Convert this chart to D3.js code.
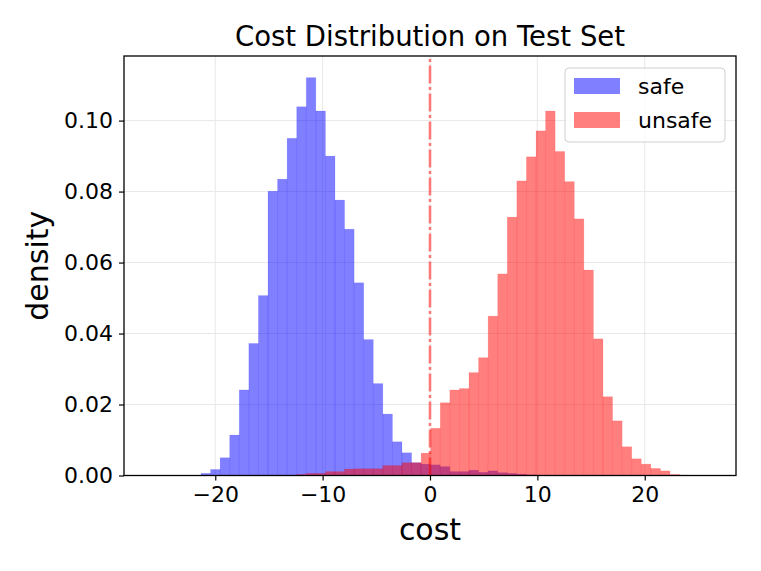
<!DOCTYPE html>
<html>
<head>
<meta charset="utf-8">
<script src="https://cdn.jsdelivr.net/npm/d3@7"></script>
<style>
  body { margin: 0; background: #fff; }
  text { font-family: "DejaVu Sans", sans-serif; fill: #000; }
</style>
</head>
<body>
<div id="chart"></div>
<script>
// histogram bins shared by both series
var binStart = -21.33, binWidth = 0.8915;

// density per bin
var safeDensity = [
  0.0006, 0.0017, 0.0050, 0.0114, 0.0241, 0.0372, 0.0507, 0.0801, 0.0835, 0.0950,
  0.1039, 0.1121, 0.1027, 0.0900, 0.0776, 0.0694, 0.0543, 0.0383, 0.0259, 0.0173,
  0.0095, 0.0064, 0.0036, 0.0032, 0.0030, 0.0025, 0.0011, 0.0011, 0.0015, 0.0009,
  0.0013, 0.0008, 0.0006, 0.0004, 0.0002, 0.0001, 0, 0, 0, 0,
  0, 0, 0, 0, 0, 0, 0, 0, 0, 0, 0
];
var unsafeDensity = [
  0, 0, 0, 0, 0, 0, 0, 0, 0, 0,
  0.0003, 0.0006, 0.0006, 0.0011, 0.0011, 0.0018, 0.0019, 0.0019, 0.0019, 0.0028,
  0.0028, 0.0036, 0.0036, 0.0063, 0.0133, 0.0205, 0.0241, 0.0245, 0.0290, 0.0332,
  0.0449, 0.0568, 0.0728, 0.0830, 0.0898, 0.0971, 0.1027, 0.0913, 0.0828, 0.0723,
  0.0579, 0.0385, 0.0222, 0.0154, 0.0081, 0.0047, 0.0032, 0.0020, 0.0013, 0.0003,
  0.0001
];

var xTicks = [-20, -10, 0, 10, 20];
var yTicks = [0, 0.02, 0.04, 0.06, 0.08, 0.10];
var seriesNames = ["safe", "unsafe"];
var seriesColors = ["#0000ff", "#ff0000"];
var threshold = 0;

var margin = {top: 56, right: 25, bottom: 95.5, left: 124},
    width = 761 - margin.left - margin.right,
    height = 571 - margin.top - margin.bottom;

var svg = d3.select("#chart")
  .append("svg")
    .attr("width", 761)
    .attr("height", 571);

var g = svg.append("g")
    .attr("transform", "translate(" + margin.left + "," + margin.top + ")");

var x = d3.scaleLinear().domain([-28.5, 28.5]).range([0, width]);
var y = d3.scaleLinear().domain([0, 0.1182]).range([height, 0]);

// grid
g.append("g").selectAll("line")
  .data(xTicks).enter().append("line")
    .attr("x1", d => x(d)).attr("x2", d => x(d))
    .attr("y1", 0).attr("y2", height)
    .attr("stroke", "#e8e8e8").attr("stroke-width", 1);
g.append("g").selectAll("line")
  .data(yTicks).enter().append("line")
    .attr("x1", 0).attr("x2", width)
    .attr("y1", d => y(d)).attr("y2", d => y(d))
    .attr("stroke", "#e8e8e8").attr("stroke-width", 1);

// bars: safe first, unsafe on top
[safeDensity, unsafeDensity].forEach(function(vals, i) {
  g.append("g").selectAll("rect")
    .data(vals.map((v, k) => ({k: k, v: v})).filter(d => d.v > 0))
    .enter().append("rect")
      .attr("x", d => x(binStart + d.k * binWidth))
      .attr("width", d => x(binStart + (d.k + 1) * binWidth) - x(binStart + d.k * binWidth))
      .attr("y", d => y(d.v))
      .attr("height", d => height - y(d.v))
      .attr("fill", seriesColors[i])
      .attr("fill-opacity", 0.5)
      .attr("stroke", seriesColors[i])
      .attr("stroke-opacity", 0.12)
      .attr("stroke-width", 0.8);
});

// threshold line, drawn bottom-up like the original
g.append("line")
  .attr("x1", x(threshold)).attr("x2", x(threshold))
  .attr("y1", height).attr("y2", 0)
  .attr("stroke", "#ff0000")
  .attr("stroke-opacity", 0.5)
  .attr("stroke-width", 2.6)
  .attr("stroke-dasharray", "18,3.5,3,3.5");

// axes
var xAxis = g.append("g")
  .attr("transform", "translate(0," + height + ")")
  .call(d3.axisBottom(x).tickValues(xTicks).tickSize(5).tickPadding(6));
var yAxis = g.append("g")
  .call(d3.axisLeft(y).tickValues(yTicks).tickFormat(d3.format(".2f")).tickSize(5).tickPadding(6));
[xAxis, yAxis].forEach(function(a) {
  a.select(".domain").remove();
  a.selectAll("line").attr("stroke", "#000").attr("stroke-width", 1.2);
  a.selectAll("text").attr("font-size", 22).attr("font-family", "DejaVu Sans");
});

// frame
g.append("rect")
  .attr("x", 0).attr("y", 0).attr("width", width).attr("height", height)
  .attr("fill", "none").attr("stroke", "#000").attr("stroke-width", 1.3);

// title and labels
svg.append("text")
  .attr("x", margin.left + width / 2).attr("y", 46)
  .attr("text-anchor", "middle").attr("font-size", 27.5)
  .text("Cost Distribution on Test Set");
svg.append("text")
  .attr("x", margin.left + width / 2).attr("y", 540)
  .attr("text-anchor", "middle").attr("font-size", 30)
  .text("cost");
svg.append("text")
  .attr("transform", "translate(48," + (margin.top + height / 2) + ") rotate(-90)")
  .attr("text-anchor", "middle").attr("font-size", 30)
  .text("density");

// legend
var legend = svg.append("g").attr("transform", "translate(565,68)");
legend.append("rect")
  .attr("width", 160).attr("height", 74).attr("rx", 4)
  .attr("fill", "#fff").attr("fill-opacity", 0.8)
  .attr("stroke", "#d0d0d0").attr("stroke-width", 1);
seriesNames.forEach(function(name, i) {
  legend.append("rect")
    .attr("x", 9).attr("y", 10 + i * 34).attr("width", 46).attr("height", 16)
    .attr("fill", seriesColors[i]).attr("fill-opacity", 0.5);
  legend.append("text")
    .attr("x", 73).attr("y", 18 + i * 34).attr("dy", "0.35em")
    .attr("font-size", 22)
    .text(name);
});
</script>
</body>
</html>
